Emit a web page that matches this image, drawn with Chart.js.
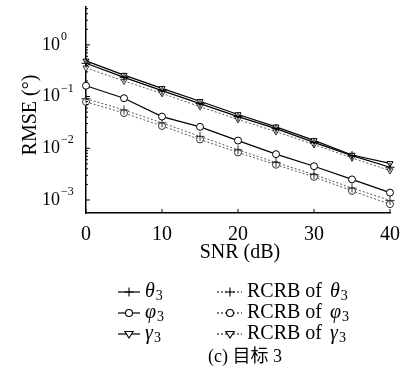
<!DOCTYPE html>
<html>
<head>
<meta charset="utf-8">
<script src="https://cdn.jsdelivr.net/npm/chart.js@4/dist/chart.umd.min.js"></script>
<style>
  body { margin: 0; background: #fff; }
  #wrap { width: 405px; height: 379px; position: relative; }
</style>
</head>
<body>
<div id="wrap"><canvas id="chart"></canvas></div>
<script>
// SNR points (dB)
const snr = [0, 5, 10, 15, 20, 25, 30, 35, 40];

// RMSE of the estimates (degrees)
const theta3 = [0.44, 0.235, 0.13, 0.073, 0.041, 0.024, 0.013, 0.0072, 0.0043];
const phi3 = [0.162, 0.093, 0.041, 0.026, 0.0141, 0.0077, 0.0045, 0.0025, 0.00139];
const gamma3 = [0.49, 0.26, 0.144, 0.081, 0.045, 0.026, 0.0142, 0.0074, 0.0051];

// RCRB curves
const rcrbTheta3 = [0.091, 0.055, 0.031, 0.017, 0.0093, 0.0053, 0.0031, 0.0017, 0.00098];
const rcrbPhi3 = [0.079, 0.048, 0.027, 0.0148, 0.0083, 0.0048, 0.0028, 0.0015, 0.00083];
const rcrbGamma3 = [0.36, 0.20, 0.115, 0.064, 0.036, 0.021, 0.0118, 0.0065, 0.0037];

// axis ticks
const xTicks = [0, 10, 20, 30, 40];
const yDecades = [-3, -2, -1, 0];

const SERIF = '"Liberation Serif", "DejaVu Serif", serif';

function makeSet(label, values, marker, dotted) {
    return {
        label: label,
        data: snr.map((x, i) => ({ x: x, y: values[i] })),
        borderColor: dotted ? '#555' : '#000',
        borderWidth: dotted ? 1 : 1.2,
        borderDash: dotted ? [2, 2] : [],
        pointStyle: marker === 'tri' ? 'triangle' : marker,
        rotation: marker === 'tri' ? 180 : 0,
        pointRadius: marker === 'cross' ? 4.5 : 3.5,
        pointBorderColor: dotted ? '#333' : '#000',
        pointBackgroundColor: '#fff',
        pointBorderWidth: 1,
        fill: false,
        tension: 0,
        clip: false
    };
}

// draw a marker by hand (legend)
function drawMarker(ctx, type, x, y) {
    ctx.save();
    ctx.setLineDash([]);
    ctx.lineWidth = 1.1;
    ctx.strokeStyle = '#000';
    ctx.fillStyle = '#fff';
    ctx.beginPath();
    if (type === 'cross') {
        ctx.moveTo(x - 4.5, y); ctx.lineTo(x + 4.5, y);
        ctx.moveTo(x, y - 4.5); ctx.lineTo(x, y + 4.5);
        ctx.stroke();
    } else if (type === 'circle') {
        ctx.arc(x, y, 3.5, 0, Math.PI * 2);
        ctx.fill(); ctx.stroke();
    } else {
        ctx.moveTo(x - 4.2, y - 2.5); ctx.lineTo(x + 4.2, y - 2.5); ctx.lineTo(x, y + 4);
        ctx.closePath();
        ctx.fill(); ctx.stroke();
    }
    ctx.restore();
}

// text with italic greek symbol and subscript
function drawSymbol(ctx, sym, x, y) {
    ctx.font = 'italic 20px ' + SERIF;
    ctx.textAlign = 'left';
    ctx.fillText(sym, x, y);
    const w = ctx.measureText(sym).width;
    ctx.font = '14px ' + SERIF;
    ctx.fillText('3', x + w + 1, y + 4);
}

const paperPlugin = {
    id: 'paper',
    afterDraw(chart) {
        const ctx = chart.ctx;
        const area = chart.chartArea;
        const xs = chart.scales.x;
        const ys = chart.scales.y;
        ctx.save();
        ctx.fillStyle = '#000';
        ctx.strokeStyle = '#000';
        ctx.lineWidth = 1;
        ctx.setLineDash([]);

        // inward ticks on x
        ctx.beginPath();
        xTicks.forEach(v => {
            const px = xs.getPixelForValue(v);
            ctx.moveTo(px, area.bottom);
            ctx.lineTo(px, area.bottom - 4);
        });
        // inward ticks on y, major + minor
        yDecades.forEach(e => {
            for (let m = 1; m < 10; m++) {
                const v = m * Math.pow(10, e);
                if (v < ys.min || v > ys.max) continue;
                const py = ys.getPixelForValue(v);
                ctx.moveTo(area.left, py);
                ctx.lineTo(area.left + (m === 1 ? 4 : 2), py);
            }
        });
        ctx.stroke();

        // x tick labels
        ctx.font = '20px ' + SERIF;
        ctx.textAlign = 'center';
        ctx.textBaseline = 'middle';
        xTicks.forEach(v => {
            ctx.fillText(String(v), xs.getPixelForValue(v), 235);
        });

        // y tick labels 10^e
        yDecades.forEach(e => {
            const py = ys.getPixelForValue(Math.pow(10, e));
            ctx.font = '18px ' + SERIF;
            ctx.textAlign = 'left';
            ctx.textBaseline = 'middle';
            ctx.fillText('10', 42, py);
            ctx.font = '12px ' + SERIF;
            ctx.fillText(e === 0 ? '0' : '\u2212' + Math.abs(e), 61, py - 8);
        });

        // axis titles
        ctx.font = '20px ' + SERIF;
        ctx.textAlign = 'center';
        ctx.fillText('SNR (dB)', 240, 253);
        ctx.save();
        ctx.translate(31, 115);
        ctx.rotate(-Math.PI / 2);
        ctx.fillText('RMSE (\u00b0)', 0, 0);
        ctx.restore();

        // legend
        const rows = [
            { y: 292, sym: '\u03b8', marker: 'cross' },
            { y: 313, sym: '\u03c6', marker: 'circle' },
            { y: 334, sym: '\u03b3', marker: 'tri' }
        ];
        rows.forEach(r => {
            // solid entry
            ctx.lineWidth = 1.2;
            ctx.setLineDash([]);
            ctx.beginPath();
            ctx.moveTo(118, r.y); ctx.lineTo(140, r.y);
            ctx.stroke();
            drawMarker(ctx, r.marker, 129, r.y);
            ctx.textBaseline = 'middle';
            drawSymbol(ctx, r.sym, 145, r.y);

            // RCRB entry
            ctx.lineWidth = 1;
            ctx.setLineDash([2, 2]);
            ctx.beginPath();
            ctx.moveTo(217, r.y); ctx.lineTo(242, r.y);
            ctx.stroke();
            ctx.setLineDash([]);
            drawMarker(ctx, r.marker, 230, r.y);
            ctx.font = '20px ' + SERIF;
            ctx.textAlign = 'left';
            ctx.fillText('RCRB of', 247, r.y);
            const w = ctx.measureText('RCRB of ').width;
            drawSymbol(ctx, r.sym, 247 + w + 3, r.y);
        });

        // caption
        ctx.font = '18px ' + SERIF + ', "Noto Sans CJK SC"';
        ctx.textAlign = 'center';
        ctx.fillText('(c) \u76ee\u6807 3', 245, 357);
        ctx.restore();
    }
};

const datasets = [
    makeSet('\u03b8\u2083', theta3, 'cross', false),
    makeSet('\u03c6\u2083', phi3, 'circle', false),
    makeSet('\u03b3\u2083', gamma3, 'tri', false),
    makeSet('RCRB of \u03b8\u2083', rcrbTheta3, 'cross', true),
    makeSet('RCRB of \u03c6\u2083', rcrbPhi3, 'circle', true),
    makeSet('RCRB of \u03b3\u2083', rcrbGamma3, 'tri', true)
];

new Chart(document.getElementById('chart'), {
    type: 'line',
    data: { datasets: datasets },
    options: {
        responsive: true,
        maintainAspectRatio: false,
        animation: false,
        layout: { padding: { left: 86, top: 7, right: 15, bottom: 166 } },
        plugins: { legend: { display: false }, tooltip: { enabled: false } },
        scales: {
            x: {
                type: 'linear',
                min: 0,
                max: 40,
                grid: { display: false, drawTicks: false },
                border: { display: true, color: '#000', width: 1.5 },
                ticks: { display: false, stepSize: 10 }
            },
            y: {
                type: 'logarithmic',
                min: 0.00056,
                max: 5.4,
                grid: { display: false, drawTicks: false },
                border: { display: true, color: '#000', width: 1.5 },
                ticks: { display: false }
            }
        }
    },
    plugins: [paperPlugin]
});
</script>
</body>
</html>
